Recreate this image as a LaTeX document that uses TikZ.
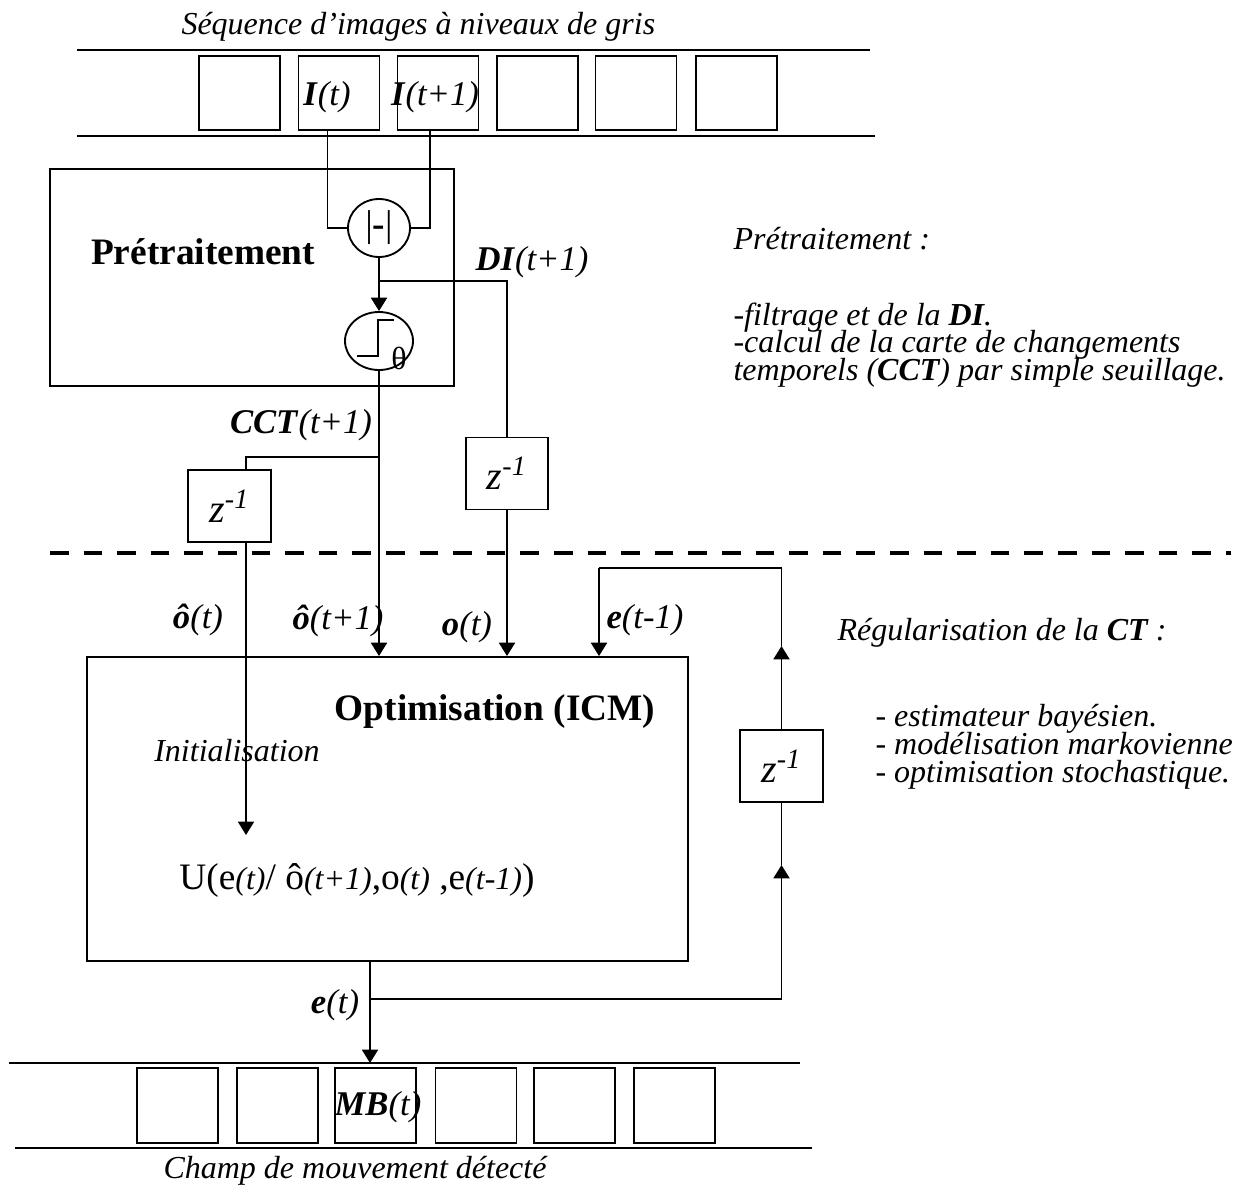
\documentclass[tikz,border=0pt]{standalone}
\usepackage{fontspec}
\setmainfont{Liberation Serif}
\usetikzlibrary{arrows.meta,shapes.geometric}
\newcommand{\petit}[1]{{\fontsize{12}{14}\selectfont\textit{#1}}}
\begin{document}
\begin{tikzpicture}[inner sep=0mm,x=0.375pt,y=-0.375pt,font=\fontsize{12}{14}\selectfont]
\tikzstyle{cadre}=[draw,line width=0.7pt,minimum width=30.4pt,minimum height=27.8pt]
\tikzstyle{bloc}=[draw,line width=0.7pt]
\tikzstyle{retard}=[draw,line width=0.7pt,minimum width=31pt,minimum height=27pt,font=\fontsize{15}{17}\selectfont]
\tikzstyle{op}=[draw,ellipse,line width=0.7pt,minimum height=21.75pt]
\tikzstyle{etiq}=[font=\fontsize{13}{15}\selectfont]
\tikzstyle{titre}=[font=\fontsize{14}{16}\selectfont\bfseries]
\tikzstyle{note}=[align=left,font=\fontsize{12}{10.4}\selectfont\itshape\setlength{\lineskiplimit}{-20pt}]
\tikzstyle{fil}=[line width=0.7pt]
\tikzstyle{fleche}=[-{Triangle[length=5pt,width=6pt]},line width=0.7pt]
\tikzstyle{bande}=[line width=1pt]
\useasboundingbox (0,0) rectangle (1248,1187);
%% sequence d'entree
\node[anchor=base west] at (181,35) (tSeq) {\textit{Séquence d’images à niveaux de gris}};
\draw[bande] (77,50) -- (870,50);
\draw[bande] (77,136) -- (875,136);
\node at (239.5,93) (haut0)[cadre] {};
\node at (339,93) (haut1)[cadre] {};
\node at (438,93) (haut2)[cadre] {};
\node at (537.5,93) (haut3)[cadre] {};
\node at (636,93) (haut4)[cadre] {};
\node at (736.5,93) (haut5)[cadre] {};
\node at (327,97) (lIt)[etiq] {\textbf{\textit{I}}\textit{(t)}};
\node at (435,97) (lIt1)[etiq] {\textbf{\textit{I}}\textit{(t+1)}};
%% pretraitement
\node at (252,277.5) (pre)[bloc,minimum width=151.5pt,minimum height=81.4pt] {};
\node at (203,252) (tPre)[titre] {Prétraitement};
\node at (379,228) (diff)[op,minimum width=23.25pt] {\fontsize{14}{16}\selectfont|\textbf{-}|};
\node at (379,341) (seuil)[op,minimum width=25.5pt] {};
\draw[fil,shift={(seuil.center)}] (-22,15) -- (-1,15) -- (-1,-21) -- (15,-21);
\node at ([shift={(20,17)}]seuil.center) (theta) {θ};
\draw[fil] ([xshift=-4.3pt]haut1.south) |- (diff.west);
\draw[fil] ([xshift=-3pt]haut2.south) |- (diff.east);
\draw[fleche] (diff) -- (seuil);
\node at (532,262) (lDI)[etiq] {\textbf{\textit{DI}}\textit{(t+1)}};
\node at (301,425) (lCCT)[etiq] {\textbf{\textit{CCT}}\textit{(t+1)}};
\node at (229.5,506) (zCCT)[retard] {\textit{z}\textsuperscript{\textit{-1}}};
\node at (507,473.5) (zDI)[retard] {\textit{z}\textsuperscript{\textit{-1}}};
%% regularisation
\draw[line width=1.2pt,dash pattern=on 7pt off 5.6pt] (50,553) -- (1231,553);
\node at (387.5,809) (optim)[bloc,minimum width=225.4pt,minimum height=114pt] {};
\node at (495,712) (tOpt)[titre] {Optimisation (ICM)};
\node at (237,751) (tInit) {\textit{Initialisation}};
\node at (357,880) (tU) {\fontsize{14}{16}\selectfont U(e\petit{(t)}/ ô\petit{(t+1)},o\petit{(t)} ,e\petit{(t-1)})};
\node at (781.5,766) (zFB)[retard] {\textit{z}\textsuperscript{\textit{-1}}};
\node at (198,620) (lo)[etiq] {\textbf{\textit{ô}}\textit{(t)}};
\node at (338,621) (lo1)[etiq] {\textbf{\textit{ô}}\textit{(t+1)}};
\node at (467,627) (lobs)[etiq] {\textbf{\textit{o}}\textit{(t)}};
\node at (645,620) (le1)[etiq] {\textbf{\textit{e}}\textit{(t-1)}};
\node at (335,1005) (le)[etiq] {\textbf{\textit{e}}\textit{(t)}};
\coordinate (jDI) at (379,281);
\coordinate (jCCT) at (379,457);
\coordinate (cCCT) at (246,457);
\coordinate (pInit) at (246,835);
\draw[fil] (jDI) -| (zDI.north);
\draw[fleche] (zDI.south) -- (zDI.south |- optim.north);
\draw[fleche] (seuil.south) -- (seuil.south |- optim.north);
\draw[fil] (jCCT) -- (cCCT) -- (cCCT |- zCCT.north);
\draw[fleche] (cCCT |- zCCT.south) -- (pInit);
%% sortie et retour
\coordinate (pMB) at (370,1063);
\coordinate (jE) at (370,999);
\coordinate (pB) at (781.5,865);
\coordinate (pH) at (781.5,646);
\coordinate (cFB) at (599,568);
\draw[fleche] (pMB |- optim.south) -- (pMB);
\draw[fleche] (jE) -| (pB);
\draw[fil] (pB) -- (zFB.south);
\draw[fleche] (zFB.north) -- (pH);
\draw[fil] (pH) |- (cFB);
\draw[fleche] (cFB) -- (cFB |- optim.north);
%% sequence de sortie
\draw[bande] (9,1063) -- (800,1063);
\draw[bande] (15,1148) -- (812,1148);
\node at (177.5,1105.5) (bas0)[cadre,minimum height=28.1pt] {};
\node at (277.5,1105.5) (bas1)[cadre,minimum height=28.1pt] {};
\node at (375.5,1105.5) (bas2)[cadre,minimum height=28.1pt] {};
\node at (476,1105.5) (bas3)[cadre,minimum height=28.1pt] {};
\node at (574.5,1105.5) (bas4)[cadre,minimum height=28.1pt] {};
\node at (674.5,1105.5) (bas5)[cadre,minimum height=28.1pt] {};
\node at (378,1107) (lMB)[etiq] {\textbf{\textit{MB}}\textit{(t)}};
\node[anchor=base west] at (163,1178) (tChamp) {\textit{Champ de mouvement détecté}};
%% commentaires a droite
\node[anchor=base west] at (733,250) (nPre) {\textit{Prétraitement :}};
\node[note,anchor=north west] at (733,302) (nPreL) {-filtrage et de la \textbf{DI}.\\-calcul de la carte de changements\\temporels (\textbf{CCT}) par simple seuillage.};
\node[anchor=base west] at (837,640) (nReg) {\textit{Régularisation de la \textbf{CT} :}};
\node[note,anchor=north west] at (875,704) (nRegL) {- estimateur bayésien.\\- modélisation markovienne\\- optimisation stochastique.};
\end{tikzpicture}
\end{document}
